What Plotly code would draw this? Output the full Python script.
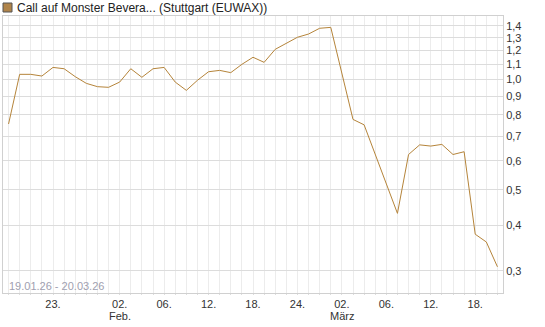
import plotly.graph_objects as go
import pandas as pd

# Trading days 19.01.26 - 20.03.26
dates = list(pd.bdate_range("2026-01-19", "2026-03-20").strftime("%d.%m.%y"))

values = [0.756, 1.033, 1.033, 1.022, 1.079, 1.070, 1.018, 0.976, 0.956, 0.952,
          0.984, 1.070, 1.014, 1.070, 1.079, 0.984, 0.934, 0.995, 1.050, 1.059,
          1.044, 1.100, 1.150, 1.114, 1.209, 1.255, 1.304, 1.331, 1.380, 1.388,
          1.042, 0.778, 0.752, 0.626, 0.520, 0.431, 0.624, 0.663, 0.658, 0.665,
          0.624, 0.635, 0.378, 0.360, 0.308]

x_label_dates = {"23.01.26": "23.", "02.02.26": "02.", "06.02.26": "06.",
                 "12.02.26": "12.", "18.02.26": "18.", "24.02.26": "24.",
                 "02.03.26": "02.", "06.03.26": "06.", "12.03.26": "12.",
                 "18.03.26": "18."}
month_labels = {"02.02.26": "Feb.", "02.03.26": "März"}

y_ticks = [0.3, 0.4, 0.5, 0.6, 0.7, 0.8, 0.9, 1.0, 1.1, 1.2, 1.3, 1.4]
y_tick_text = ["0,3", "0,4", "0,5", "0,6", "0,7", "0,8", "0,9", "1,0", "1,1", "1,2", "1,3", "1,4"]

title_text = "Call auf Monster Bevera... (Stuttgart (EUWAX))"
range_text = "19.01.26 - 20.03.26"

xi = list(range(len(dates)))
xt = [x_label_dates.get(d, "") for d in dates]

FONT = "Liberation Sans, Arial, sans-serif"
W, H = 545, 327
ml, mr, mt, mb = 3, 42, 16, 34
pw, ph = W - ml - mr, H - mt - mb

fig = go.Figure()
fig.add_trace(go.Scatter(x=xi, y=values, mode="lines",
                         line=dict(color="#b5843a", width=1),
                         hoverinfo="skip", showlegend=False))

fig.update_layout(
    width=W, height=H,
    margin=dict(l=ml, r=mr, t=mt, b=mb),
    paper_bgcolor="white", plot_bgcolor="white",
    font=dict(family=FONT, size=11, color="#333"),
    xaxis=dict(range=[-0.5, len(dates) - 0.5], tickvals=xi, ticktext=xt,
               showgrid=True, gridcolor="#ececec", gridwidth=1,
               ticks="outside", ticklen=1, tickcolor="#dddddd",
               showline=True, linecolor="#d0d0d0", mirror=True,
               zeroline=False, tickangle=0,
               tickfont=dict(family=FONT, size=11, color="#333")),
    yaxis=dict(type="log", range=[-0.583, 0.1734], side="right",
               tickvals=y_ticks, ticktext=y_tick_text,
               showgrid=True, gridcolor="#dcdcdc", gridwidth=1,
               showline=True, linecolor="#d0d0d0", mirror=True,
               zeroline=False, ticks="",
               tickfont=dict(family=FONT, size=11, color="#333")),
)

def px_x(p):
    return (p - ml) / pw

def px_y(p):
    return (H - mb - p) / ph

for d, lab in month_labels.items():
    fig.add_annotation(text=lab, xref="x", yref="paper",
                       x=dates.index(d), y=px_y(315.5), xanchor="center", yanchor="middle",
                       showarrow=False, font=dict(family=FONT, size=11, color="#333"))

fig.add_shape(type="rect", xref="paper", yref="paper",
              x0=px_x(3), x1=px_x(12), y0=px_y(12), y1=px_y(3),
              fillcolor="#b0844a", line=dict(color="#555", width=1))

fig.add_annotation(text=title_text, xref="paper", yref="paper",
                   x=px_x(15), y=px_y(8), xanchor="left", yanchor="middle",
                   showarrow=False, font=dict(family=FONT, size=12, color="#222"))

fig.add_annotation(text=range_text, xref="paper", yref="paper",
                   x=px_x(7), y=px_y(286), xanchor="left", yanchor="middle",
                   showarrow=False, font=dict(family=FONT, size=11, color="#a0a0b0"))

fig.write_html("out.html")
